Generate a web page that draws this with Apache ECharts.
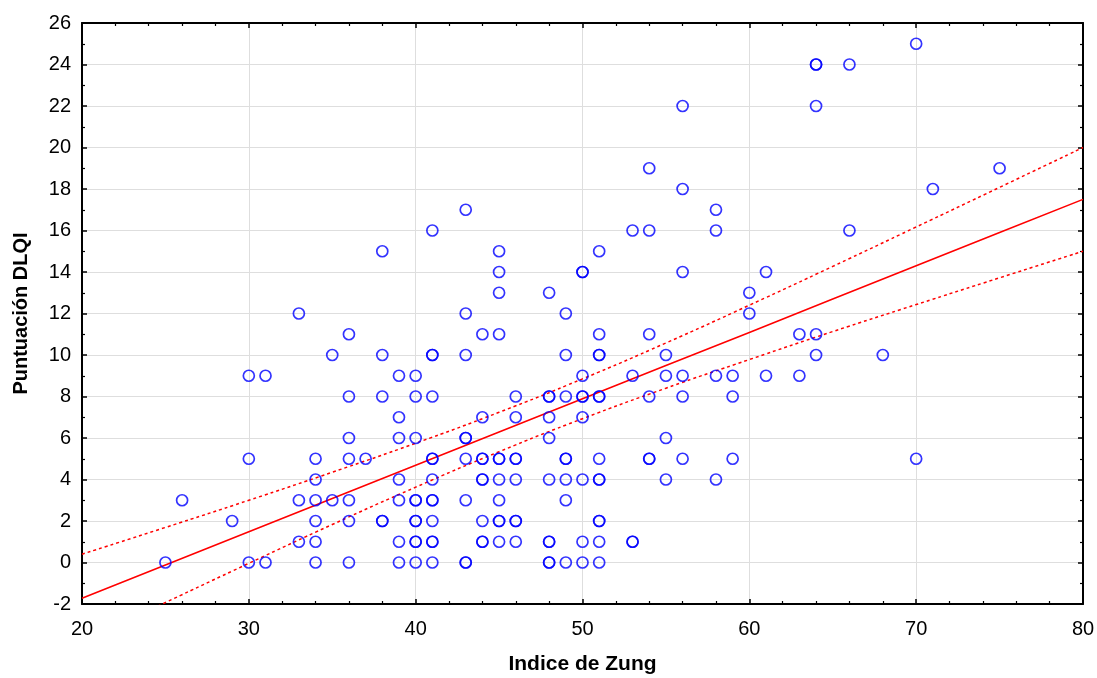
<!DOCTYPE html>
<html>
<head>
<meta charset="utf-8">
<script src="https://cdn.jsdelivr.net/npm/echarts@6/dist/echarts.min.js"></script>
<style>html,body{margin:0;padding:0;background:#fff}#c{width:1097px;height:678px}</style>
</head>
<body>
<div id="c"></div>
<script>
// Scatter data: [Indice de Zung, Puntuación DLQI] (duplicates where circles overlap)
const zungX = [
  25,26,29,30,30,30,31,31,33,33,33,
  34,34,34,34,34,34,35,35,
  36,36,36,36,36,36,36,37,
  38,38,38,38,38,
  39,39,39,39,39,39,39,
  40,40,40,40,40,40,40,40,40,40,
  41,41,41,41,41,41,41,41,41,41,41,41,41,
  43,43,43,43,43,43,43,43,43,
  44,44,44,44,44,44,44,44,44,
  45,45,45,45,45,45,45,45,45,45,45,
  46,46,46,46,46,46,46,46,
  48,48,48,48,48,48,48,48,48,48,
  49,49,49,49,49,49,49,49,
  50,50,50,50,50,50,50,50,50,
  51,51,51,51,51,51,51,51,51,51,51,51,51,
  53,53,53,53,
  54,54,54,54,54,54,
  55,55,55,55,
  56,56,56,56,56,56,
  58,58,58,58,
  59,59,59,
  60,60,61,61,63,63,
  64,64,64,64,64,
  66,66,68,70,70,71,75
];
const dlqiY = [
  0,3,2,9,5,0,9,0,12,3,1,
  5,4,3,2,1,0,10,3,
  11,8,6,5,3,2,0,5,
  15,10,8,2,2,
  9,7,6,4,3,1,0,
  9,8,6,3,3,2,2,1,1,0,
  16,10,10,8,5,5,4,3,3,2,1,1,0,
  17,12,10,6,6,5,3,0,0,
  11,7,5,5,4,4,2,1,1,
  15,14,13,11,5,5,4,3,2,2,1,
  8,7,5,5,4,2,2,1,
  13,8,8,7,6,4,1,1,0,0,
  12,10,8,5,5,4,3,0,
  14,14,9,8,8,7,4,1,0,
  15,11,10,10,8,8,5,4,4,2,2,1,0,
  16,9,1,1,
  19,16,11,8,5,5,
  10,9,6,4,
  22,18,14,9,8,5,
  17,16,9,4,
  9,8,5,
  13,12,14,9,11,9,
  24,24,22,11,10,
  24,16,10,25,5,18,19
];

// Regression line and 95% confidence band
const bandX   = [20, 25, 30, 35, 40, 45, 50, 55, 60, 65, 70, 75, 80];
const fitY    = [-1.72, -0.12, 1.48, 3.09, 4.69, 6.29, 7.89, 9.49, 11.09, 12.70, 14.30, 15.90, 17.50];
const upperY  = [0.40, 1.69, 3.00, 4.35, 5.75, 7.24, 8.85, 10.58, 12.40, 14.27, 16.17, 18.08, 20.00];
const lowerY  = [-3.84, -1.93, -0.04, 1.83, 3.63, 5.34, 6.93, 8.40, 9.78, 11.13, 12.43, 13.72, 15.00];

const xTicks = {min: 20, max: 80, step: 10};
const yTicks = {min: -2, max: 26, step: 2};

const pts = zungX.map((x, i) => [x, dlqiY[i]]);
const pair = (ys) => bandX.map((x, i) => [x, ys[i]]);

const FONT = 'Liberation Sans, Arial, sans-serif';
const axisLine = {show: true, onZero: false, lineStyle: {color: '#000', width: 2}};
const tick = {show: true, inside: true, length: 5, lineStyle: {color: '#000', width: 1.5}};
const minor = {show: true, length: 3, lineStyle: {color: '#000', width: 1.2}};

const chart = echarts.init(document.getElementById('c'), null, {renderer: 'canvas'});
chart.setOption({
  animation: false,
  backgroundColor: '#fff',
  grid: {left: 82, right: 14, top: 23, bottom: 74, containLabel: false, outerBoundsMode: 'none'},
  xAxis: [{
    type: 'value', position: 'bottom', min: xTicks.min, max: xTicks.max, interval: xTicks.step,
    name: 'Indice de Zung', nameLocation: 'middle', nameGap: 50,
    nameTextStyle: {fontFamily: FONT, fontWeight: 'bold', fontSize: 21, color: '#000'},
    axisLine, axisTick: tick, minorTick: Object.assign({splitNumber: 5}, minor),
    axisLabel: {fontFamily: FONT, fontSize: 20, color: '#000', margin: 15},
    splitLine: {show: true, lineStyle: {color: '#dedede', width: 1}}
  }, {
    type: 'value', position: 'top', min: xTicks.min, max: xTicks.max, interval: xTicks.step,
    axisLine, axisTick: tick, minorTick: Object.assign({splitNumber: 5}, minor),
    axisLabel: {show: false}, splitLine: {show: false}
  }],
  yAxis: [{
    type: 'value', position: 'left', min: yTicks.min, max: yTicks.max, interval: yTicks.step,
    name: 'Puntuación DLQI', nameLocation: 'middle', nameGap: 51,
    nameTextStyle: {fontFamily: FONT, fontWeight: 'bold', fontSize: 20, color: '#000'},
    axisLine, axisTick: tick, minorTick: Object.assign({splitNumber: 2}, minor),
    axisLabel: {fontFamily: FONT, fontSize: 20, color: '#000', margin: 11},
    splitLine: {show: true, lineStyle: {color: '#dedede', width: 1}}
  }, {
    type: 'value', position: 'right', min: yTicks.min, max: yTicks.max, interval: yTicks.step,
    axisLine, axisTick: tick, minorTick: Object.assign({splitNumber: 2}, minor),
    axisLabel: {show: false}, splitLine: {show: false}
  }],
  series: [
    {type: 'line', data: pair(upperY), smooth: true, symbol: 'none', z: 3,
     lineStyle: {color: '#ff0000', width: 1.5, type: [3, 3]}},
    {type: 'line', data: pair(lowerY), smooth: true, symbol: 'none', z: 3,
     lineStyle: {color: '#ff0000', width: 1.5, type: [3, 3]}},
    {type: 'line', data: pair(fitY), symbol: 'none', z: 3,
     lineStyle: {color: '#ff0000', width: 1.6}},
    {type: 'scatter', data: pts, symbol: 'circle', symbolSize: 11, z: 4,
     itemStyle: {color: 'rgba(0,0,0,0)', borderColor: '#0000ff', borderWidth: 1.7}}
  ]
});
</script>
</body>
</html>
